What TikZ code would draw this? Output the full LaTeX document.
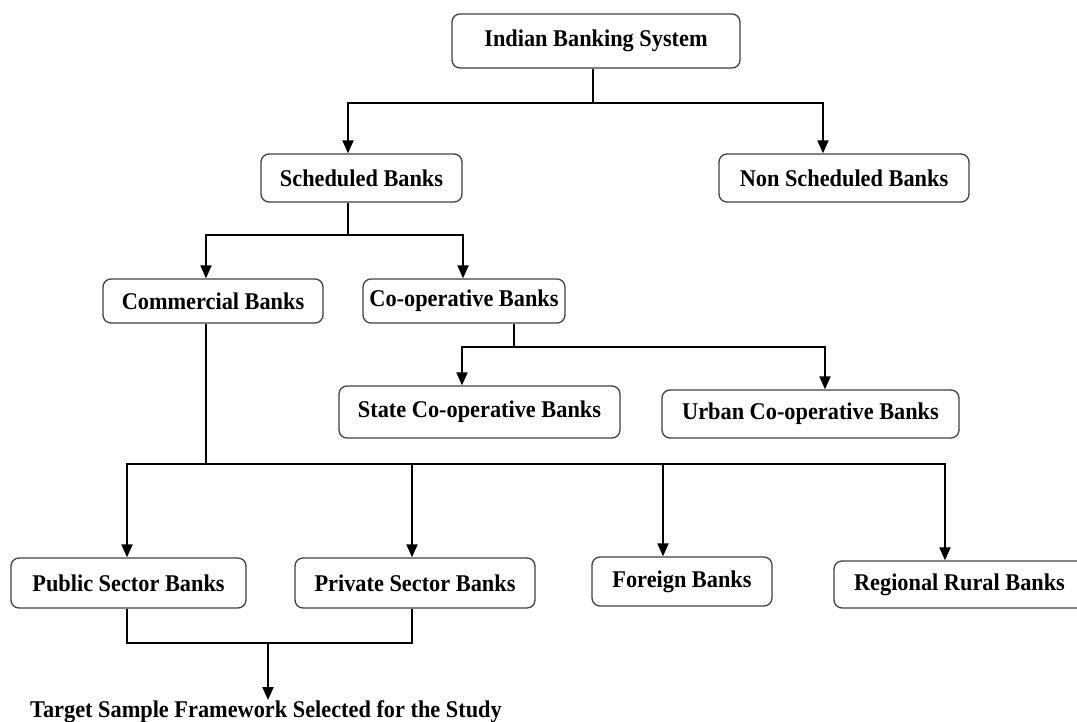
\documentclass[tikz,border=0pt]{standalone}
\usepackage{fontspec}
\setmainfont{Liberation Serif}[FakeStretch=0.93]
\usetikzlibrary{arrows.meta}

\begin{document}
\begin{tikzpicture}[x=1pt,y=-1pt,
  box/.style={draw=black!75, line width=1.3pt, rounded corners=8pt, fill=white,
              inner sep=0pt, font=\fontsize{24}{28}\selectfont\bfseries},
  link/.style={draw=black, line width=2pt},
  arr/.style={link, -{Triangle[width=11pt,length=13pt]}},
  lbl/.style={inner sep=0pt, font=\fontsize{24}{28}\selectfont\bfseries}]

  % page frame
  \useasboundingbox (0,0) rectangle (1077,721);

  % boxes
  \node[box, minimum width=288pt, minimum height=54pt] (ibs)   at (596,41)    {Indian Banking System};
  \node[box, minimum width=201pt, minimum height=48pt] (sch)   at (361.5,178) {Scheduled Banks};
  \node[box, minimum width=250pt, minimum height=48pt] (nsch)  at (844,178)   {Non Scheduled Banks};
  \node[box, minimum width=220pt, minimum height=44pt] (com)   at (213,301)   {Commercial Banks};
  \node[box, minimum width=202pt, minimum height=44pt] (coop)  at (464,301)   {Co-operative Banks};
  \node[box, minimum width=281pt, minimum height=52pt] (state) at (479.5,412) {State Co-operative Banks};
  \node[box, minimum width=297pt, minimum height=48pt] (urban) at (810.5,414) {Urban Co-operative Banks};
  \node[box, minimum width=235pt, minimum height=50pt] (pub)   at (128.5,583) {Public Sector Banks};
  \node[box, minimum width=240pt, minimum height=50pt] (priv)  at (415,583)   {Private Sector Banks};
  \node[box, minimum width=180pt, minimum height=49pt] (for)   at (682,581.5) {Foreign Banks};
  \node[box, minimum width=251pt, minimum height=47pt] (rrb)   at (959.5,584.5) {Regional Rural Banks};
  \node[lbl, anchor=north] (target) at (266,700) {Target Sample Framework Selected for the Study};

  % junction points
  \coordinate (j1) at (593,103);
  \coordinate (j2) at (348,235);
  \coordinate (j3) at (514,347);
  \coordinate (j4) at (206,464);
  \coordinate (j5) at (268,643);

  % level 1
  \draw[link] (ibs.south -| j1) -- (j1);
  \draw[arr] (j1) -| ([xshift=-13.5pt]sch.north);
  \draw[arr] (j1) -| ([xshift=-21pt]nsch.north);

  % level 2
  \draw[link] (sch.south -| j2) -- (j2);
  \draw[arr] (j2) -| ([xshift=-7pt]com.north);
  \draw[arr] (j2) -| ([xshift=-1pt]coop.north);

  % co-operative banks
  \draw[link] (coop.south -| j3) -- (j3);
  \draw[arr] (j3) -| ([xshift=-17.5pt]state.north);
  \draw[arr] (j3) -| ([xshift=14.5pt]urban.north);

  % commercial banks
  \draw[link] (com.south -| j4) -- (j4);
  \draw[arr] (j4) -| ([xshift=-1.5pt]pub.north);
  \draw[arr] (j4) -| ([xshift=-3pt]priv.north);
  \draw[arr] (j4) -| ([xshift=-19pt]for.north);
  \draw[arr] (j4) -| ([xshift=-14.5pt]rrb.north);

  % sample selection
  \draw[link] ([xshift=-1.5pt]pub.south) |- (j5) -| ([xshift=-3pt]priv.south);
  \draw[arr] (j5) -- (j5 |- target.north);
\end{tikzpicture}
\end{document}
